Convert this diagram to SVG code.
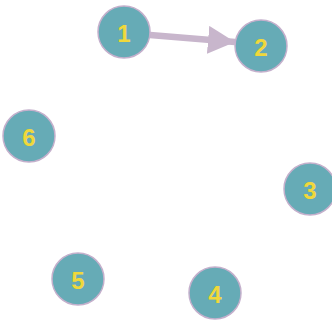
<svg xmlns="http://www.w3.org/2000/svg" width="332" height="322" viewBox="0 0 332 322">
<style>
.n circle{fill:#66abb6;stroke:#c4b0cc;stroke-width:1.5}
.n text{fill:#f0d83a;font-family:"Liberation Sans",Arial,sans-serif;font-weight:bold;font-size:24px;text-anchor:middle;dominant-baseline:central}
.e{stroke:#c8b6cc;stroke-width:6.5;fill:none}
</style>
<defs>
<marker id="ah" markerUnits="userSpaceOnUse" markerWidth="30" markerHeight="28" refX="27" refY="14" orient="auto">
<path d="M0,0 L27,14 L0,28 Z" fill="#c8b6cc"/>
</marker>
</defs>
<rect width="332" height="322" fill="#fff"/>
<g id="edges">
<line class="e" x1="150" y1="35" x2="235" y2="42" marker-end="url(#ah)"/>
</g>
<g id="node1" class="n"><circle cx="124" cy="32" r="26"/><text x="124" y="33">1</text></g>
<g id="node2" class="n"><circle cx="261" cy="46" r="26"/><text x="261" y="47">2</text></g>
<g id="node3" class="n"><circle cx="310" cy="189" r="26"/><text x="310" y="190">3</text></g>
<g id="node4" class="n"><circle cx="215" cy="293" r="26"/><text x="215" y="294">4</text></g>
<g id="node5" class="n"><circle cx="78" cy="279" r="26"/><text x="78" y="280">5</text></g>
<g id="node6" class="n"><circle cx="29" cy="136" r="26"/><text x="29" y="137">6</text></g>
</svg>
